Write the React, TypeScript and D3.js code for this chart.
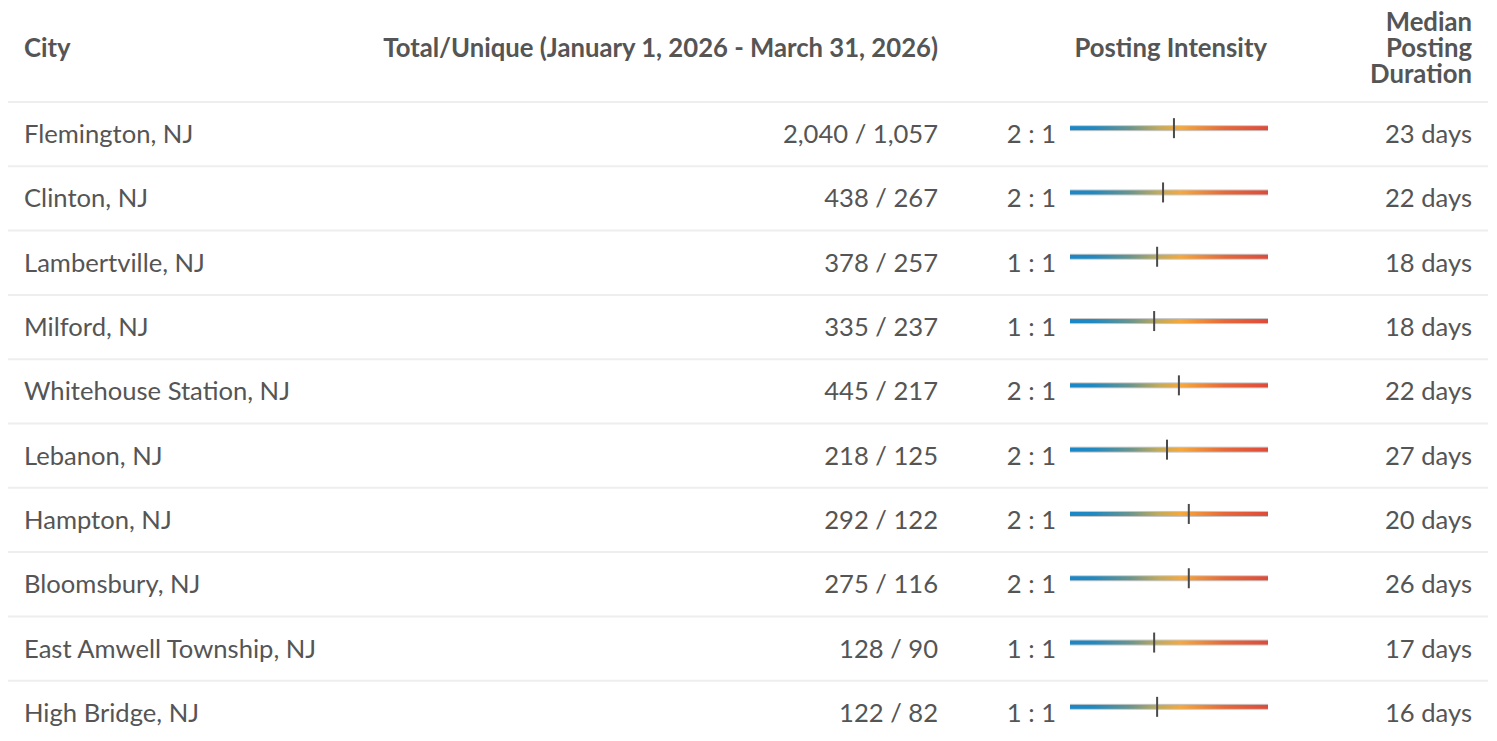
import * as d3 from 'd3';

const cities = [
  'Flemington, NJ',
  'Clinton, NJ',
  'Lambertville, NJ',
  'Milford, NJ',
  'Whitehouse Station, NJ',
  'Lebanon, NJ',
  'Hampton, NJ',
  'Bloomsbury, NJ',
  'East Amwell Township, NJ',
  'High Bridge, NJ',
];
const totals = [2040, 438, 378, 335, 445, 218, 292, 275, 128, 122];
const uniques = [1057, 267, 257, 237, 217, 125, 122, 116, 90, 82];
const ratios = ['2 : 1', '2 : 1', '1 : 1', '1 : 1', '2 : 1', '2 : 1', '2 : 1', '2 : 1', '1 : 1', '1 : 1'];
// marker position on the intensity scale (0 = low, 1 = high)
const intensity = [0.525, 0.47, 0.44, 0.425, 0.55, 0.49, 0.6, 0.6, 0.425, 0.44];
const durations = [23, 22, 18, 18, 22, 27, 20, 26, 17, 16];

const headers = {
  city: 'City',
  total: 'Total/Unique (January 1, 2026 - March 31, 2026)',
  intensity: 'Posting Intensity',
  duration: ['Median', 'Posting', 'Duration'],
};

const W = 1497;
const H = 741;
const font = 'Lato, "Noto Sans", sans-serif';
const textColor = '#555';

export default function App() {
  const fmt = d3.format(',');
  const headerBottom = 102;
  const rowH = 64.3;
  const rowY = d3.scaleLinear().domain([0, 1]).range([headerBottom, headerBottom + rowH]);
  const barX = d3.scaleLinear().domain([0, 1]).range([1070, 1268]);

  const colCity = 24;
  const colTotal = 938;
  const colRatio = 1056;
  const colDays = 1472;

  return (
    <svg width={W} height={H} style={{ position: 'absolute', left: 0, top: 0, background: '#fff' }}>
      <defs>
        <linearGradient id="intensityGrad" gradientUnits="userSpaceOnUse" x1={barX(0)} x2={barX(1)} y1={0} y2={0}>
          <stop offset="0" stopColor="#1a87c9" />
          <stop offset="0.12" stopColor="#2189c0" />
          <stop offset="0.3" stopColor="#67958f" />
          <stop offset="0.45" stopColor="#c2ab5c" />
          <stop offset="0.56" stopColor="#f6a83b" />
          <stop offset="0.78" stopColor="#e6693a" />
          <stop offset="1" stopColor="#df4a3b" />
        </linearGradient>
      </defs>

      {/* header */}
      <g fontFamily={font} fontWeight={700} fontSize={25.7} fill={textColor}>
        <text x={colCity} y={48} dy="0.35em">{headers.city}</text>
        <text x={colTotal} y={48} dy="0.35em" textAnchor="end">{headers.total}</text>
        <text x={1267} y={48} dy="0.35em" textAnchor="end">{headers.intensity}</text>
        {headers.duration.map((t, i) => (
          <text key={t} x={colDays} y={22 + i * 26} dy="0.35em" textAnchor="end">{t}</text>
        ))}
      </g>

      {/* separators */}
      {cities.map((_, i) => (
        <line key={i} x1={8} x2={1488} y1={rowY(i)} y2={rowY(i)} stroke="#eeeeee" strokeWidth={2} />
      ))}

      {/* rows */}
      <g fontFamily={font} fontWeight={400} fontSize={25.6} fill={textColor}>
        {cities.map((c, i) => {
          const cy = rowY(i + 0.5);
          const by = cy - 6;
          return (
            <g key={c}>
              <text x={colCity} y={cy} dy="0.35em">{c}</text>
              <text x={colTotal} y={cy} dy="0.35em" textAnchor="end">
                {`${fmt(totals[i])} / ${fmt(uniques[i])}`}
              </text>
              <text x={colRatio} y={cy} dy="0.35em" textAnchor="end">{ratios[i]}</text>
              <rect x={barX(0)} y={by - 3} width={barX(1) - barX(0)} height={6} fill="#c8c8c8" />
              <rect x={barX(0)} y={by - 2} width={barX(1) - barX(0)} height={4} fill="url(#intensityGrad)" />
              <line x1={barX(intensity[i])} x2={barX(intensity[i])} y1={by - 10} y2={by + 10} stroke="#4a4a4a" strokeWidth={2} />
              <text x={colDays} y={cy} dy="0.35em" textAnchor="end">{`${durations[i]} days`}</text>
            </g>
          );
        })}
      </g>
    </svg>
  );
}
